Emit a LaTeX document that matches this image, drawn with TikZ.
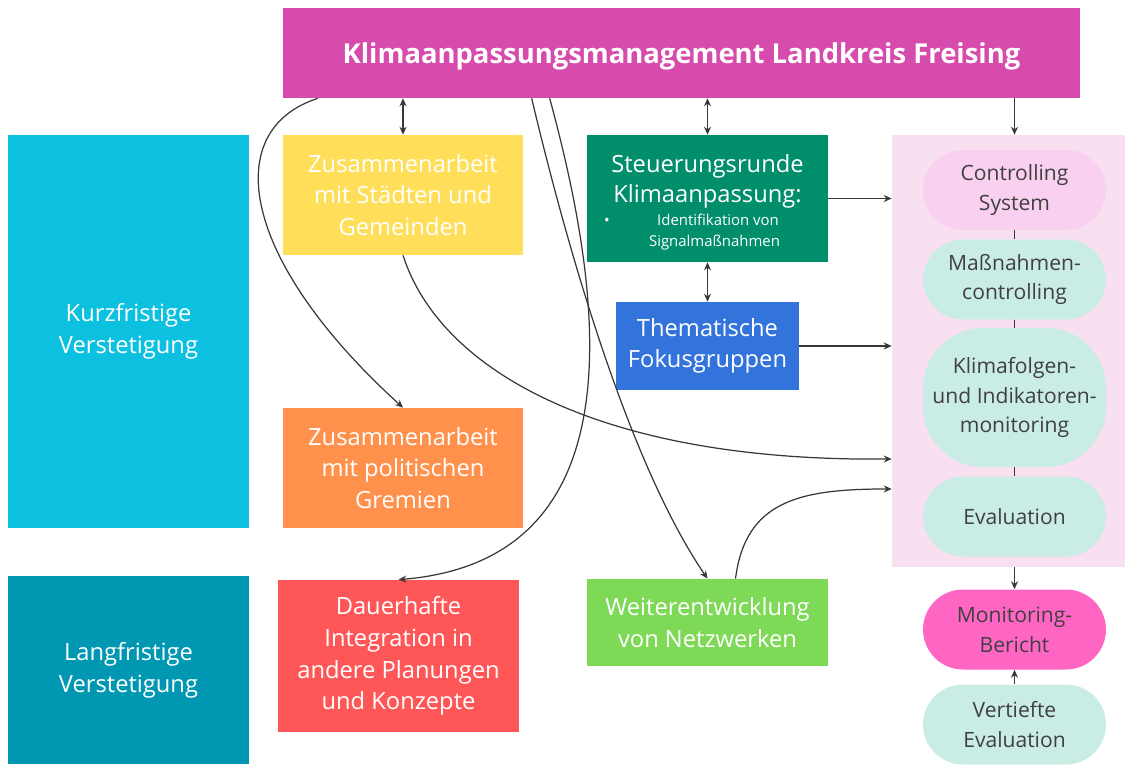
\documentclass[tikz,border=0pt]{standalone}
\usepackage{fontspec}
\setmainfont{Open Sans}
\usetikzlibrary{arrows.meta}

\definecolor{headcol}{HTML}{D74BAC}
\definecolor{kurzcol}{HTML}{0CC0DF}
\definecolor{langcol}{HTML}{0097B2}
\definecolor{gelb}{HTML}{FFDE59}
\definecolor{orange}{HTML}{FF914D}
\definecolor{rot}{HTML}{FF5757}
\definecolor{dunkelgruen}{HTML}{018F6B}
\definecolor{blau}{HTML}{3273DC}
\definecolor{hellgruen}{HTML}{7ED957}
\definecolor{panelrosa}{HTML}{F8E0F0}
\definecolor{ctrlrosa}{HTML}{F9D0F0}
\definecolor{mint}{HTML}{C9ECE4}
\definecolor{pink}{HTML}{FF66C4}
\definecolor{pilltext}{HTML}{404040}
\definecolor{liniengrau}{HTML}{383838}

\newcommand{\kleintext}{\fontsize{8.5}{12}\selectfont}

\begin{document}
\begin{tikzpicture}[
    x=0.02cm, y=-0.02cm,
    font=\fontsize{13.5}{18}\selectfont,
    >={Stealth[length=4.5pt,width=4pt]},
    box/.style={text=white, align=center, inner sep=0pt},
    pill/.style={fill=mint, text=pilltext, align=center, inner sep=0pt,
      rounded corners=0.8cm, minimum width=3.66cm, minimum height=1.6cm,
      font=\fontsize{12}{17}\selectfont},
    conn/.style={draw=liniengrau, line width=0.7pt},
  ]
  \useasboundingbox (0,0) rectangle (1125,764);

  % ---- Kopfzeile ----
  \node[box, fill=headcol, minimum width=15.94cm, minimum height=1.8cm, text depth=0pt,
    font=\fontsize{15.6}{18}\selectfont\bfseries] (kam) at (681.5,53)
    {Klimaanpassungsmanagement Landkreis Freising};

  % ---- Verstetigung (links) ----
  \node[box, fill=kurzcol, minimum width=4.82cm, minimum height=7.86cm] (kurz) at (128.5,331.5)
    {Kurzfristige\\Verstetigung};
  \node[box, fill=langcol, minimum width=4.82cm, minimum height=3.76cm] (lang) at (128.5,670)
    {Langfristige\\Verstetigung};

  % ---- Bausteine ----
  \node[box, fill=gelb, minimum width=4.8cm, minimum height=2.4cm] (staedte) at (403,195)
    {Zusammenarbeit\\mit Städten und\\Gemeinden};
  \node[box, fill=orange, minimum width=4.8cm, minimum height=2.4cm] (gremien) at (403,468)
    {Zusammenarbeit\\mit politischen\\Gremien};
  \node[box, fill=rot, minimum width=4.82cm, minimum height=3.04cm] (integ) at (398.5,656)
    {Dauerhafte\\Integration in\\andere Planungen\\und Konzepte};
  \node[box, fill=dunkelgruen, minimum width=4.82cm, minimum height=2.54cm] (steu) at (707.5,198.5)
    {\rule{0pt}{15pt}Steuerungsrunde\\[-1pt]Klimaanpassung:\\[-5pt]
     \kleintext\llap{\textbullet\hspace{15pt}}\hspace{12pt}Identifikation von\\[-6pt]
     \kleintext\hspace{8pt}Signalmaßnahmen};
  \node[box, fill=blau, minimum width=3.66cm, minimum height=1.76cm] (fokus) at (707.5,346)
    {Thematische\\Fokusgruppen};
  \node[box, fill=hellgruen, minimum width=4.82cm, minimum height=1.74cm] (netz) at (707.5,622.5)
    {Weiterentwicklung\\von Netzwerken};

  % ---- Controlling (rechts) ----
  \node[fill=panelrosa, minimum width=4.66cm, minimum height=8.64cm, inner sep=0pt] (panel) at (1008.5,351) {};
  \node[pill, fill=ctrlrosa] (ctrl) at (1014.5,190) {Controlling\\System};
  \node[pill] (mass) at (1014.5,279.5) {Maßnahmen-\\controlling};
  \node[pill, minimum height=2.78cm, rounded corners=1.2cm] (klima) at (1014.5,397.5)
    {Klimafolgen-\\und Indikatoren-\\monitoring};
  \node[pill] (eval) at (1014.5,516.5) {Evaluation};
  \node[pill, fill=pink] (bericht) at (1014.5,629.5) {Monitoring-\\Bericht};
  \node[pill] (vertieft) at (1014.5,724.5) {Vertiefte\\Evaluation};

  % ---- gerade Verbindungen ----
  \draw[conn, <->] (kam.south -| staedte.north) -- (staedte.north);
  \draw[conn, <->] (kam.south -| steu.north) -- (steu.north);
  \draw[conn, <->] (steu.south) -- (fokus.north);
  \draw[conn, ->] (kam.south -| ctrl.north) -- (panel.north -| ctrl.north);
  \draw[conn, ->] (steu.east) -- (steu.east -| panel.west);
  \draw[conn, ->] (fokus.east) -- (fokus.east -| panel.west);
  \draw[conn] (ctrl.south) -- (mass.north);
  \draw[conn] (mass.south) -- (klima.north);
  \draw[conn] (klima.south) -- (eval.north);
  \draw[conn, ->] (panel.south -| bericht.north) -- (bericht.north);
  \draw[conn, ->] (vertieft.north) -- (bericht.south);

  % ---- geschwungene Verbindungen ----
  \draw[conn, ->] ([xshift=0.7cm]kam.south west) .. controls +(-98,32) and +(-163,-148) .. (gremien.north);
  \draw[conn, ->] ([xshift=5.34cm]kam.south west) .. controls +(55,202) and +(240,-20) .. (integ.north);
  \draw[conn, ->] ([xshift=4.98cm]kam.south west) .. controls +(48,202) and +(-67,-98) .. (netz.north);
  \draw[conn, ->] (staedte.south) .. controls +(37,115) and +(-292,3) .. ([yshift=-2.16cm]panel.west);
  \draw[conn, ->] ([xshift=0.56cm]netz.north) .. controls +(10,-78) and +(-92,0) .. ([yshift=-2.76cm]panel.west);
\end{tikzpicture}
\end{document}
